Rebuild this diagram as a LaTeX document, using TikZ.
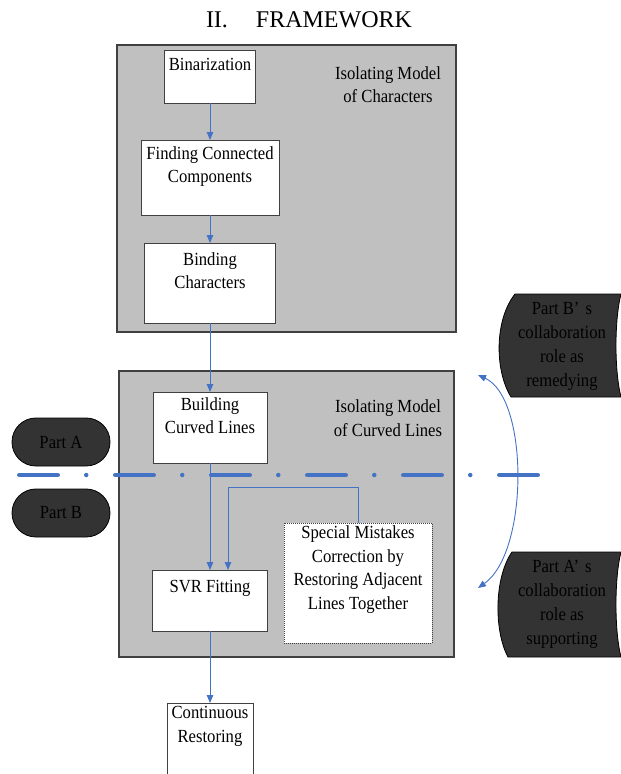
\documentclass[tikz,border=0pt]{standalone}
\usepackage{fontspec}
\setmainfont{Liberation Serif}
\newfontfamily\boxfont{Liberation Serif}[FakeStretch=0.9]
\usetikzlibrary{arrows.meta}
\definecolor{boxgray}{HTML}{C0C0C0}
\definecolor{edgec}{HTML}{404040}
\definecolor{flowblue}{HTML}{4472C4}
\definecolor{darkfill}{HTML}{333333}
\tikzset{
  panel/.style={draw=edgec, line width=1.3pt, fill=boxgray, inner sep=0pt, outer sep=0pt},
  stepbox/.style={draw=edgec, line width=1pt, fill=white, inner sep=0pt, outer sep=0pt},
  dotbox/.style={draw=edgec, line width=0.9pt, dash pattern=on 1pt off 1pt, fill=white, inner sep=0pt, outer sep=0pt},
  lbl/.style={font=\boxfont\fontsize{18.5}{23.5}\selectfont, align=center, inner sep=0pt},
  flow/.style={draw=flowblue, line width=0.9pt, -{Triangle[width=6.5pt,length=8pt]}},
  pill/.style={draw=black, line width=0.8pt, fill=darkfill, rounded corners=23.9pt, minimum width=98pt, minimum height=48pt, inner sep=0pt, outer sep=0pt, font=\boxfont\fontsize{18.5}{23.5}\selectfont},
  rolefill/.style={draw=black, line width=0.8pt, fill=darkfill},
  sep/.style={draw=flowblue, line width=4.5pt, line cap=round, dash pattern=on 38.5pt off 28.5pt on 0pt off 29pt}
}
\begin{document}
\begin{tikzpicture}[x=1pt,y=-1pt]
\useasboundingbox (0,0) rectangle (621,774);
% title
\node[font=\fontsize{24}{28}\selectfont, inner sep=0pt] (title) at (309,20) {II.\hspace{28pt}FRAMEWORK};
% panels
\node[panel, minimum width=339pt, minimum height=287pt] (upper) at (286.5,188.5) {};
\node[panel, minimum width=335pt, minimum height=286pt] (lower) at (286.5,514) {};
\node[lbl] (charT) at (388,84.5) {Isolating Model\\of Characters};
\node[lbl] (curvT) at (388,418) {Isolating Model\\of Curved Lines};
% boxes
\node[stepbox, minimum width=91pt, minimum height=53pt] (binar) at (210,76.5) {};
\node[stepbox, minimum width=138pt, minimum height=75pt] (find) at (210,177.5) {};
\node[stepbox, minimum width=131pt, minimum height=80pt] (bind) at (210,283) {};
\node[stepbox, minimum width=114pt, minimum height=71pt] (build) at (210,427.5) {};
\node[stepbox, minimum width=115pt, minimum height=61pt] (svr) at (210,600.5) {};
\node[dotbox, minimum width=148pt, minimum height=120pt] (spec) at (358,583) {};
\node[inner sep=0pt, outer sep=0pt, fill=white, minimum width=86pt, minimum height=72pt] (cont) at (210,739) {};
\draw[edgec, line width=1pt] (cont.south west) |- (cont.north east) -- (cont.south east);
% box texts
\node[lbl] (binT) at (210,64) {Binarization};
\node[lbl] (findT) at (210,166.5) {Finding Connected\\Components};
\node[lbl] (bindT) at (210,270.5) {Binding\\Characters};
\node[lbl] (buildT) at (210,415.5) {Building\\Curved Lines};
\node[lbl] (svrT) at (210,588) {SVR Fitting};
\node[lbl] (specT) at (358,569.5) {Special Mistakes\\Correction by\\Restoring Adjacent\\Lines Together};
\node[lbl] (contT) at (210,726.5) {Continuous\\Restoring};
% connectors
\draw[flow] (binar) -- (find);
\draw[flow] (find) -- (bind);
\draw[flow] (bind) -- (build);
\draw[flow] (build) -- (svr);
\coordinate (fb) at (228,487);
\draw[flow] (spec.north) |- (fb) -- (fb |- svr.north);
\draw[flow] (svr) -- (cont.north);
% separator
\coordinate (sepL) at (19.25,475);
\coordinate (sepR) at (538,475);
\draw[sep] (sepL) -- (sepR);
% parts
\node[pill] (partA) at (61,442) {Part A};
\node[pill] (partB) at (61,513) {Part B};
% role shapes
\path[rolefill] (515,294) -- (621,294) .. controls (614.3,320) and (614.3,371) .. (621,397) -- (511,397) .. controls (494.5,370) and (494.5,320) .. (515,294) -- cycle;
\path[rolefill] (512,552) -- (621,552) .. controls (614.3,578) and (614.3,631) .. (621,657) -- (508,657) .. controls (494,631) and (494,578) .. (512,552) -- cycle;
\node[lbl, font=\boxfont\fontsize{18.5}{24}\selectfont] (roleB) at (562,346) {Part B’\,\,s\\collaboration\\role as\\remedying};
\node[lbl, font=\boxfont\fontsize{18.5}{24}\selectfont] (roleA) at (562,604.5) {Part A’\,\,s\\collaboration\\role as\\supporting};
% double arc arrow
\coordinate (arcT) at (478,375);
\coordinate (arcB) at (478,588);
\draw[draw=flowblue, line width=0.9pt, {Triangle[width=6.5pt,length=8pt]}-{Triangle[width=6.5pt,length=8pt]}] (arcT) .. controls (529,398) and (529,552) .. (arcB);
\end{tikzpicture}
\end{document}
